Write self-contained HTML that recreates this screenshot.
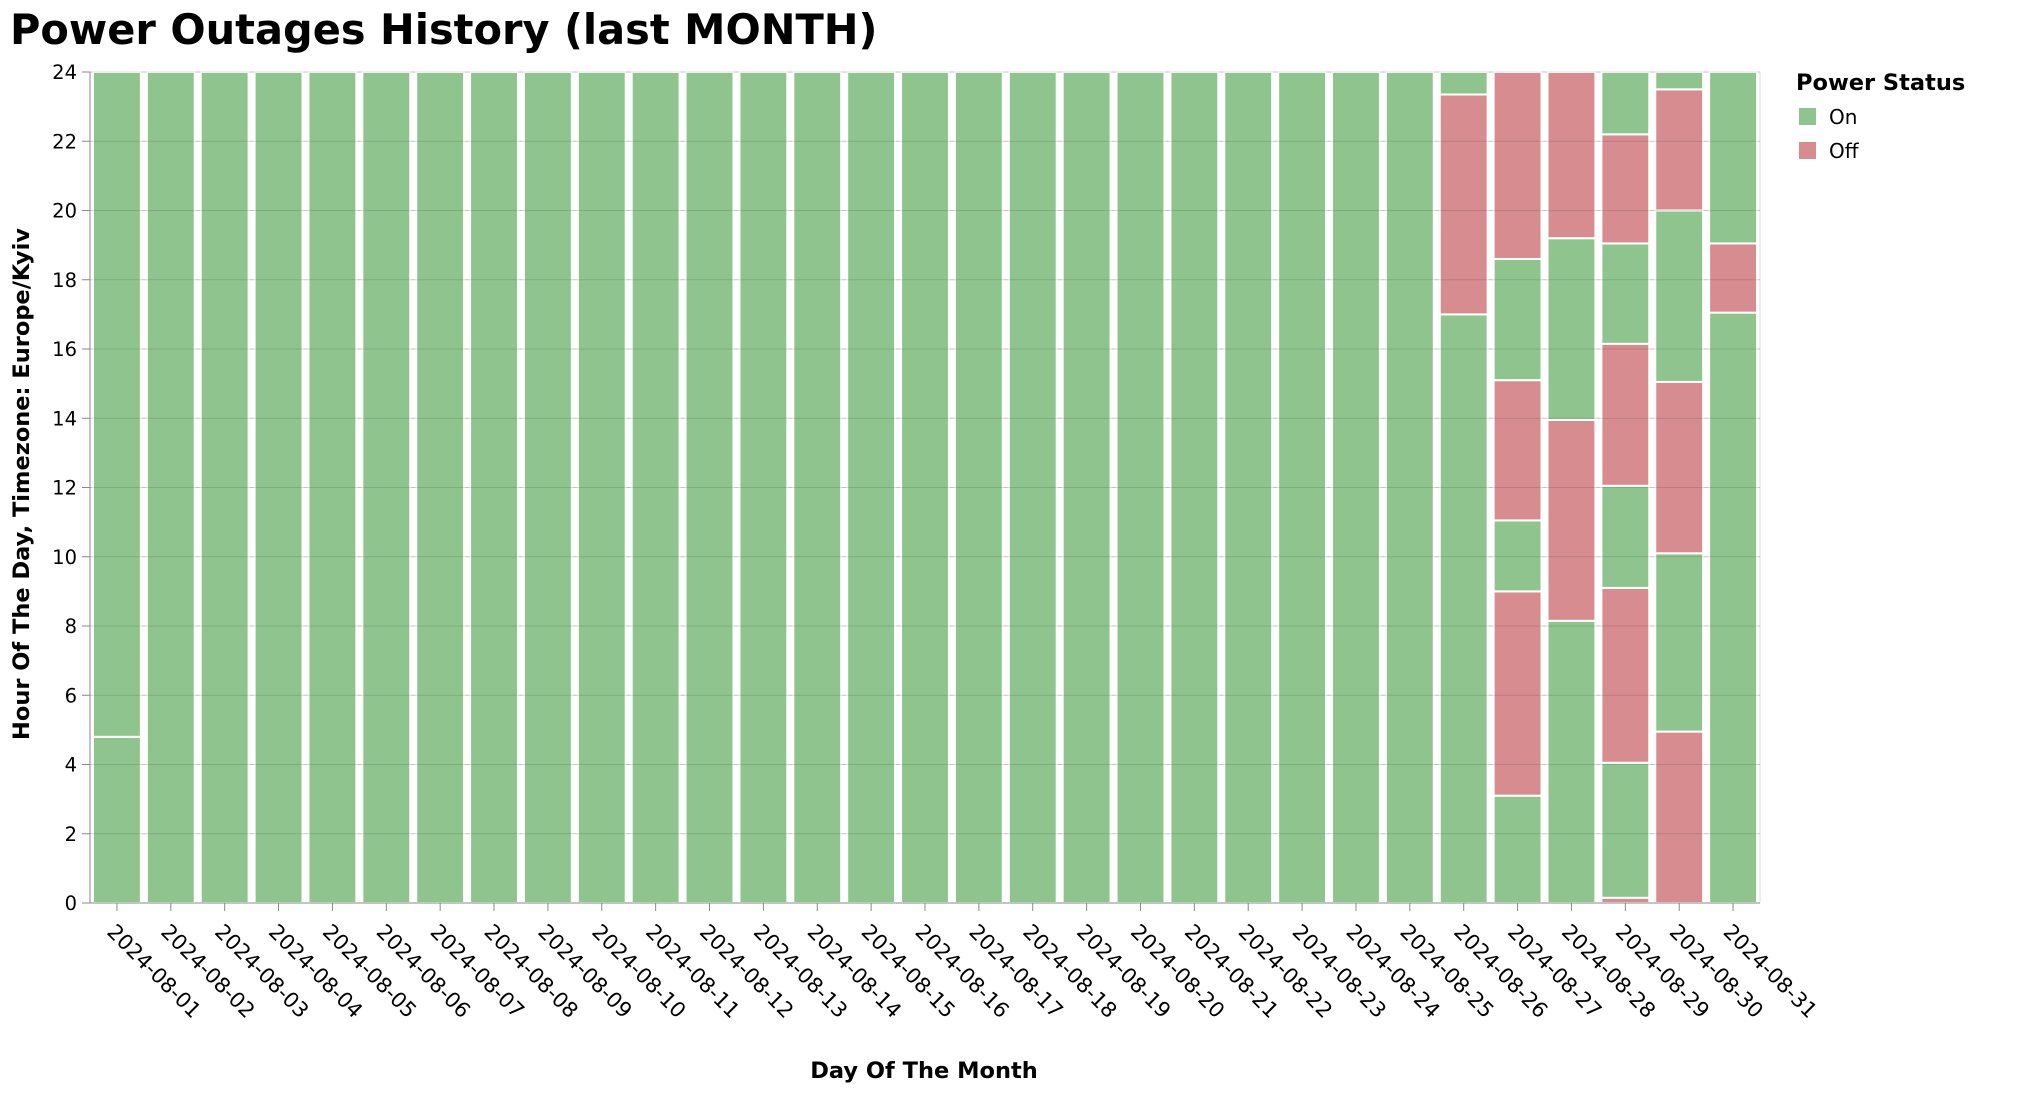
<!DOCTYPE html>
<html><head><meta charset="utf-8"><style>
body{margin:0;background:#fff;}
svg text{font-family:"DejaVu Sans","Liberation Sans",sans-serif;}
</style></head><body>
<svg id="chart" width="2023" height="1094" xmlns="http://www.w3.org/2000/svg">
<text x="10" y="44" font-size="41.5" font-weight="bold" fill="#000">Power Outages History (last MONTH)</text>
<g id="grid"></g>
<g id="bars"></g>
<g id="gridTop"></g>
<g id="axes"></g>
<text transform="translate(29,484) rotate(-90)" text-anchor="middle" font-size="22.5" font-weight="bold">Hour Of The Day, Timezone: Europe/Kyiv</text>
<text x="924" y="1078" text-anchor="middle" font-size="22.5" font-weight="bold">Day Of The Month</text>
<g>
<text x="1796" y="90" font-size="22.5" font-weight="bold">Power Status</text>
<rect x="1799" y="108" width="17" height="17" fill="#90c48e"/>
<text x="1829" y="124" font-size="20">On</text>
<rect x="1799" y="142" width="17" height="17" fill="#d78d8f"/>
<text x="1829" y="158" font-size="20">Off</text>
</g>
</svg>
<script>
const days = [];
for (let d = 1; d <= 31; d++) days.push('2024-08-' + String(d).padStart(2, '0'));
const yTicks = [0,2,4,6,8,10,12,14,16,18,20,22,24];
// segments per day: [start, end, status]
const segAug01 = [[0,4.8,'On'],[4.8,24,'On']];
const segFull = [[0,24,'On']];
const segAug26 = [[0,17,'On'],[17,23.35,'Off'],[23.35,24,'On']];
const segAug27 = [[0,3.1,'On'],[3.1,9.0,'Off'],[9.0,11.05,'On'],[11.05,15.1,'Off'],[15.1,18.6,'On'],[18.6,24,'Off']];
const segAug28 = [[0,8.15,'On'],[8.15,13.95,'Off'],[13.95,19.2,'On'],[19.2,24,'Off']];
const segAug29 = [[0,0.15,'Off'],[0.15,4.05,'On'],[4.05,9.1,'Off'],[9.1,12.05,'On'],[12.05,16.15,'Off'],[16.15,19.05,'On'],[19.05,22.2,'Off'],[22.2,24,'On']];
const segAug30 = [[0,4.95,'Off'],[4.95,10.1,'On'],[10.1,15.05,'Off'],[15.05,20.0,'On'],[20.0,23.5,'Off'],[23.5,24,'On']];
const segAug31 = [[0,17.05,'On'],[17.05,19.05,'Off'],[19.05,24,'On']];

const L=90, R=1760, T=72, B=903;
const step=(R-L)/days.length;
const x=i=>L+i*step;
const y=h=>B-(h/24)*(B-T);
const NS='http://www.w3.org/2000/svg';
function mk(tag,attrs,parent){const e=document.createElementNS(NS,tag);for(const k in attrs)e.setAttribute(k,attrs[k]);parent.appendChild(e);return e;}
const grid=document.getElementById('grid'),bars=document.getElementById('bars'),gt=document.getElementById('gridTop'),axes=document.getElementById('axes');
const col={On:'#90c48e',Off:'#d78d8f'};
days.forEach((d,i)=>{
  let segs=segFull;
  if(i===0)segs=segAug01;
  if(i===25)segs=segAug26; if(i===26)segs=segAug27; if(i===27)segs=segAug28;
  if(i===28)segs=segAug29; if(i===29)segs=segAug30; if(i===30)segs=segAug31;
  segs.forEach(s=>{
    const r=mk('rect',{x:x(i)+3,y:y(s[1]),width:step-6,height:y(s[0])-y(s[1]),fill:col[s[2]],stroke:'#fff','stroke-width':2},bars);
    
    
  });
  const t=mk('line',{x1:x(i)+step/2,x2:x(i)+step/2,y1:B,y2:B+8,stroke:'#888'},axes);
  
  
  const lx=x(i)+step/2-11, ly=B+30;
  const lb=mk('text',{x:lx,y:ly,'font-size':21,transform:`rotate(45 ${lx} ${ly})`},axes);
  lb.textContent=d;
  
  
});
yTicks.forEach(v=>{
  mk('line',{x1:L,x2:R,y1:y(v),y2:y(v),stroke:'#ddd'},grid);
  const g=mk('line',{x1:L,x2:R,y1:y(v),y2:y(v),stroke:'rgba(0,0,0,0.12)'},gt);
  
  
  mk('line',{x1:L-8,x2:L,y1:y(v),y2:y(v),stroke:'#888'},axes);
  const lb=mk('text',{x:L-13,y:y(v)+7,'font-size':19.5,'text-anchor':'end'},axes);
  lb.textContent=v;
  
  
});
mk('line',{x1:R,x2:R,y1:T,y2:B,stroke:'#ddd'},grid);
mk('line',{x1:L,x2:L,y1:T,y2:B,stroke:'#888'},axes);
mk('line',{x1:L,x2:R,y1:B,y2:B,stroke:'#888'},axes);
</script>
</body></html>
